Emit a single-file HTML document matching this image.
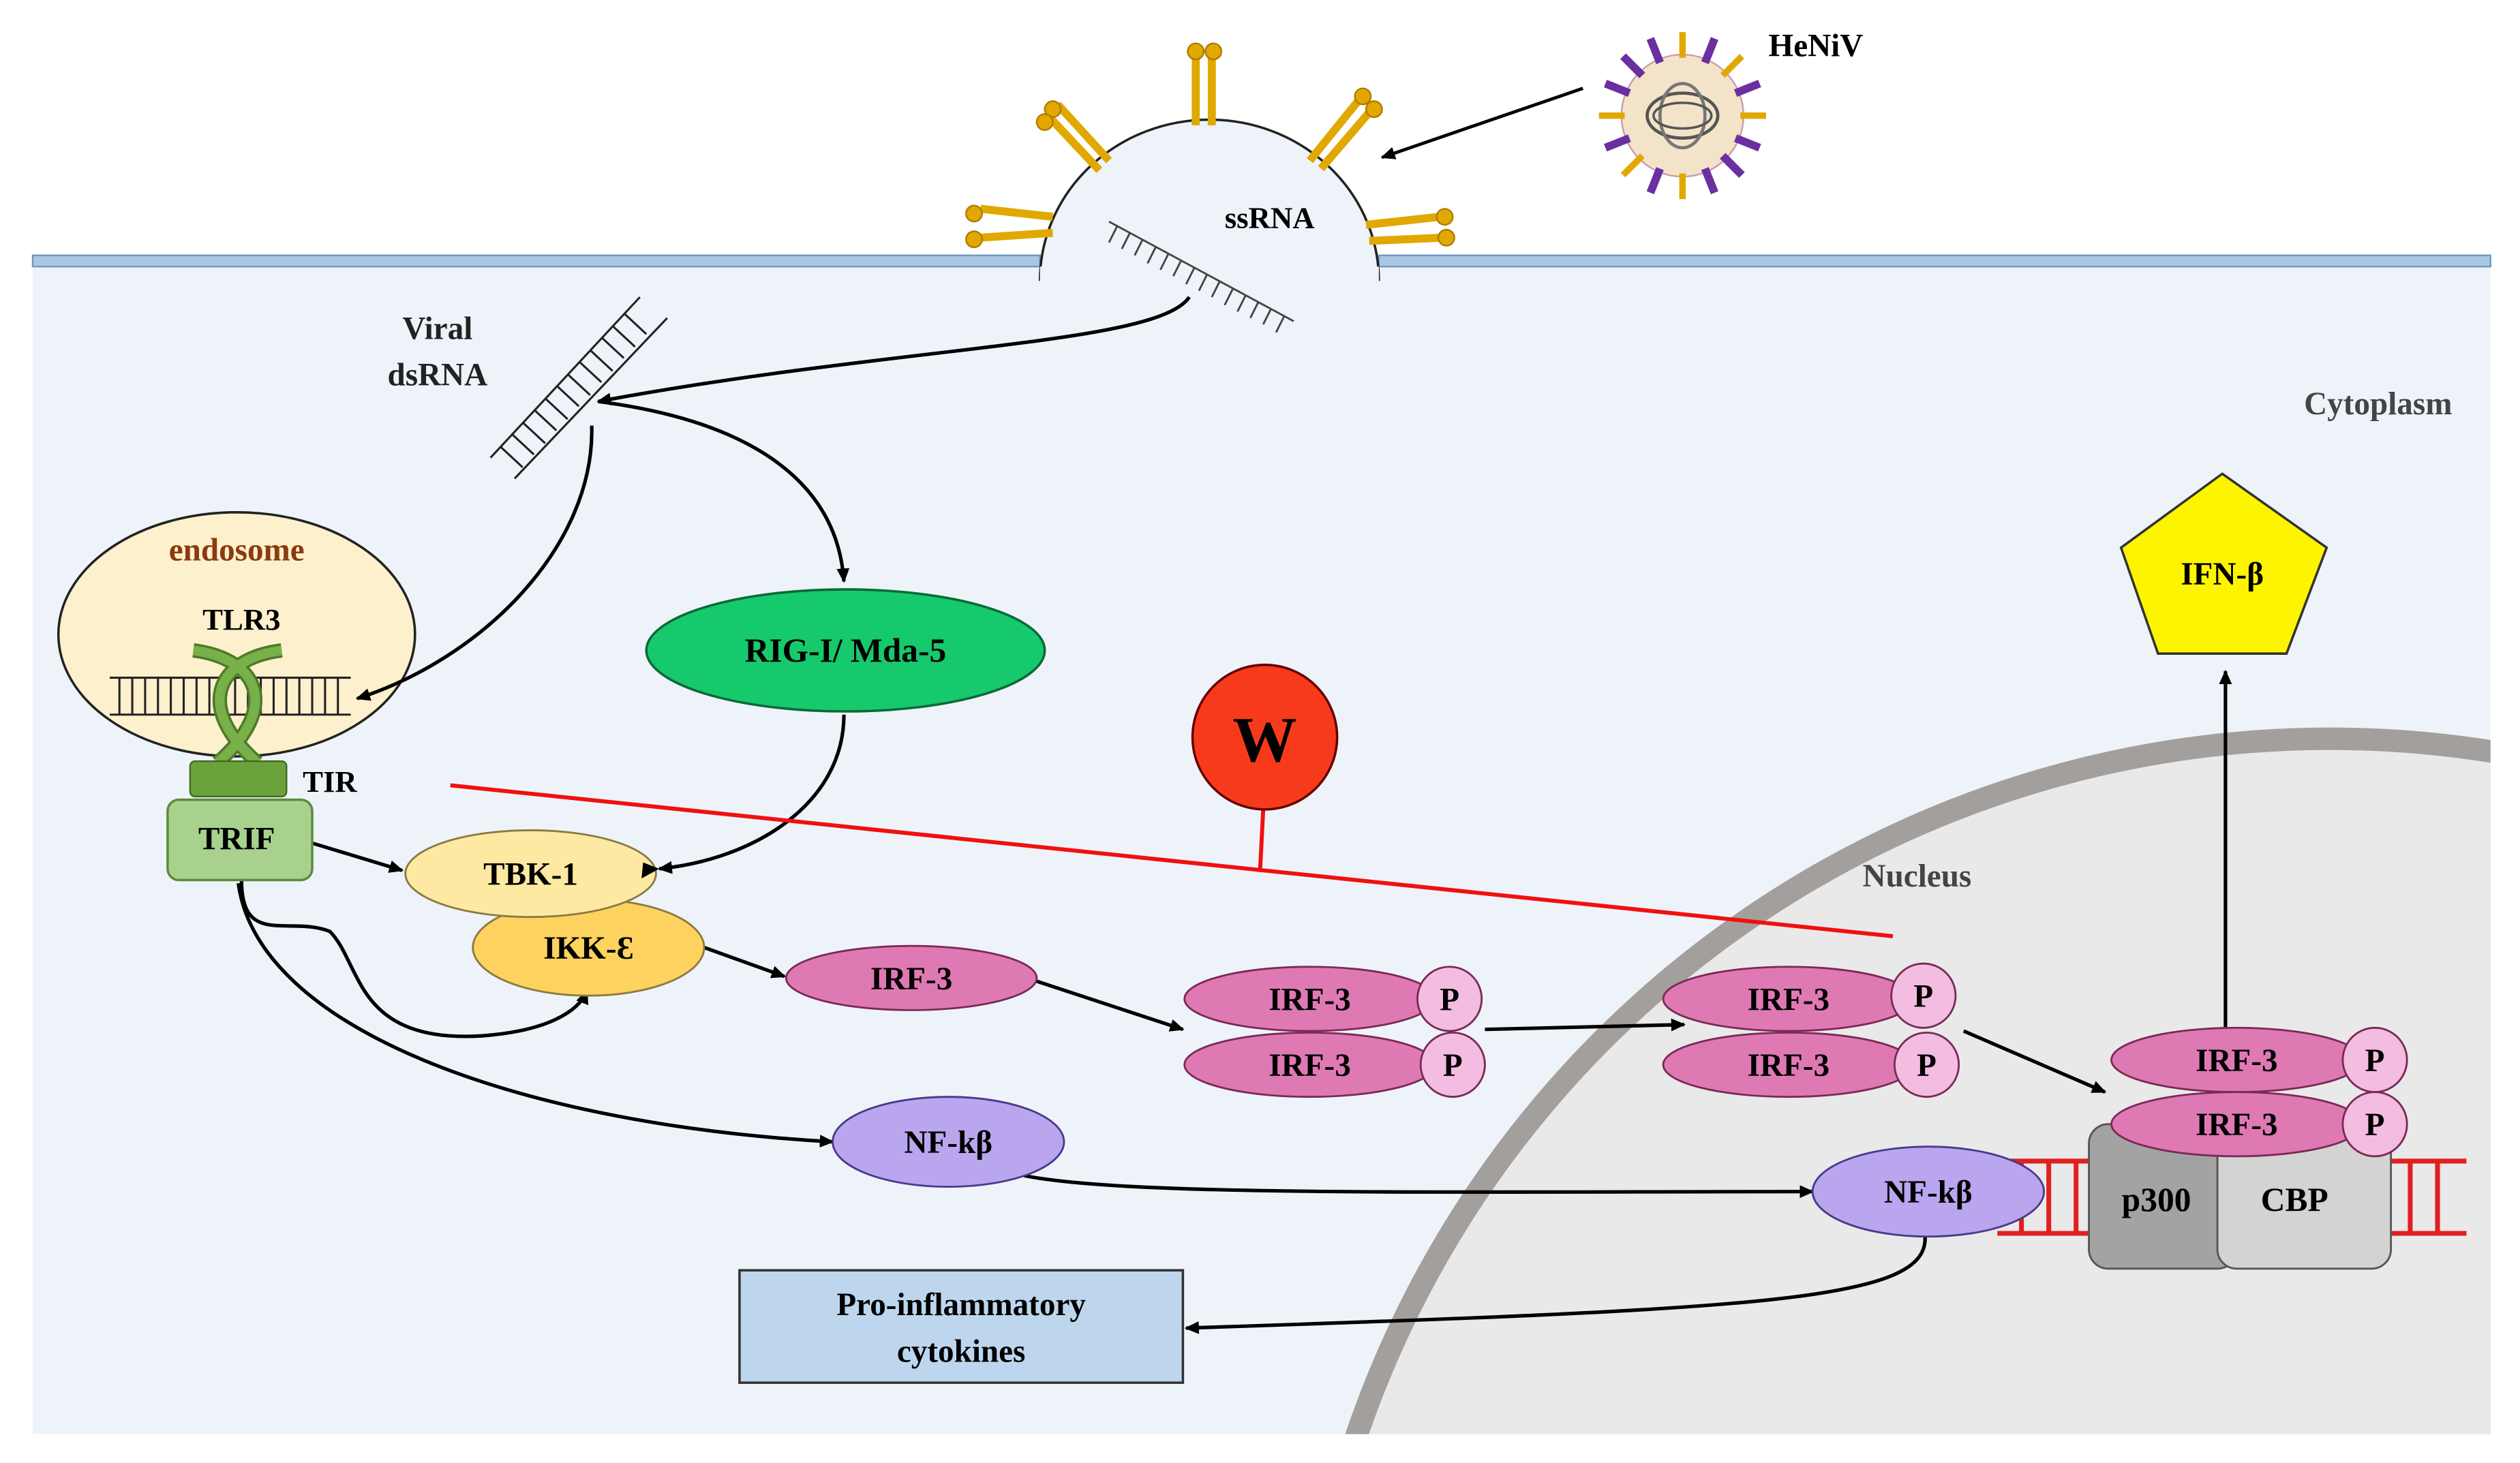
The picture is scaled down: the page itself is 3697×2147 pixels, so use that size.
<!DOCTYPE html>
<html><head><meta charset="utf-8"><style>html,body{margin:0;padding:0;background:#fff;overflow:hidden;width:3697px;height:2147px}svg{display:block}text{font-family:"Liberation Serif",serif;font-weight:bold}</style></head>
<body>
<svg width="3697" height="2147" viewBox="0 0 1568 911" xmlns="http://www.w3.org/2000/svg">
<defs>
<marker id="a" markerWidth="10" markerHeight="10" refX="8" refY="5" orient="auto" markerUnits="userSpaceOnUse"><path d="M0,1 L9,5 L0,9 Z" fill="#000"/></marker>
<clipPath id="cy"><rect x="20" y="165" width="1530" height="728"/></clipPath>
</defs>
<rect width="1568" height="911" fill="#fff"/>
<rect x="20" y="165" width="1530" height="728" fill="#eef3f9"/>
<g clip-path="url(#cy)"><circle cx="1450" cy="1100" r="640" fill="#e9e9e9" stroke="#a39f9c" stroke-width="14"/></g>
<rect x="20" y="159" width="627" height="7" fill="#a9c7e3" stroke="#6d98c2" stroke-width="1"/>
<rect x="858" y="159" width="692" height="7" fill="#a9c7e3" stroke="#6d98c2" stroke-width="1"/>
<path d="M647,175 A105,100 0 0 1 858,175" fill="#eef3f9" stroke="#222" stroke-width="1.5"/>
<rect x="647" y="166" width="211" height="10" fill="#eef3f9"/>
<g stroke="#e0a800" stroke-width="5" fill="#e0a800">
<line x1="655" y1="135" x2="610" y2="130"/><line x1="655" y1="145" x2="610" y2="148"/>
<line x1="690" y1="100" x2="658" y2="65"/><line x1="684" y1="106" x2="652" y2="72"/>
<line x1="744" y1="78" x2="744" y2="35"/><line x1="754" y1="78" x2="754" y2="35"/>
<line x1="815" y1="100" x2="845" y2="63"/><line x1="822" y1="105" x2="852" y2="70"/>
<line x1="850" y1="140" x2="896" y2="135"/><line x1="852" y1="150" x2="898" y2="148"/>
</g>
<g fill="#e0a800" stroke="#b07a00"><circle cx="606" cy="133" r="5"/><circle cx="606" cy="149" r="5"/><circle cx="655" cy="68" r="5"/><circle cx="650" cy="76" r="5"/><circle cx="744" cy="32" r="5"/><circle cx="755" cy="32" r="5"/><circle cx="848" cy="60" r="5"/><circle cx="855" cy="68" r="5"/><circle cx="899" cy="135" r="5"/><circle cx="900" cy="148" r="5"/></g>
<g stroke="#444" stroke-width="1.2"><line x1="690" y1="138" x2="805" y2="200"/>
<path d="M695,141 l-5,10 M703,145 l-5,10 M711,149 l-5,10 M719,154 l-5,10 M727,158 l-5,10 M735,162 l-5,10 M743,167 l-5,10 M751,171 l-5,10 M759,175 l-5,10 M767,180 l-5,10 M775,184 l-5,10 M783,188 l-5,10 M791,192 l-5,10 M799,197 l-5,10"/></g>
<text x="790" y="142" font-size="19" text-anchor="middle">ssRNA</text>
<g transform="translate(1047,72)">
<circle r="38" fill="#f3e3c8" stroke="#c9a" stroke-width="1"/>
<g stroke="#e0a800" stroke-width="4"><line x1="0" y1="-36" x2="0" y2="-52"/><line x1="0" y1="36" x2="0" y2="52"/><line x1="-36" y1="0" x2="-52" y2="0"/><line x1="36" y1="0" x2="52" y2="0"/><line x1="25" y1="-25" x2="37" y2="-37"/><line x1="-25" y1="25" x2="-37" y2="37"/></g>
<g stroke="#6b2fa0" stroke-width="5"><line x1="-25" y1="-25" x2="-37" y2="-37"/><line x1="25" y1="25" x2="37" y2="37"/><line x1="14" y1="-33" x2="20" y2="-48"/><line x1="-14" y1="33" x2="-20" y2="48"/><line x1="33" y1="-14" x2="48" y2="-20"/><line x1="-33" y1="14" x2="-48" y2="20"/><line x1="-14" y1="-33" x2="-20" y2="-48"/><line x1="14" y1="33" x2="20" y2="48"/><line x1="-33" y1="-14" x2="-48" y2="-20"/><line x1="33" y1="14" x2="48" y2="20"/></g>
<ellipse rx="22" ry="14" fill="none" stroke="#555" stroke-width="2"/><ellipse rx="14" ry="20" fill="none" stroke="#777" stroke-width="2"/><ellipse rx="18" ry="8" fill="none" stroke="#555" stroke-width="1.5"/>
</g>
<text x="1130" y="35" font-size="20" text-anchor="middle">HeNiV</text>
<line x1="985" y1="55" x2="860" y2="98" stroke="#000" stroke-width="2" marker-end="url(#a)"/>
<text x="272" y="211" font-size="20" text-anchor="middle" fill="#222">Viral</text>
<text x="272" y="240" font-size="20" text-anchor="middle" fill="#222">dsRNA</text>
<text x="1480" y="258" font-size="20" text-anchor="middle" fill="#444">Cytoplasm</text>
<text x="1193" y="552" font-size="20" text-anchor="middle" fill="#444">Nucleus</text>
<g stroke="#222" stroke-width="1.3"><line x1="305" y1="285" x2="398" y2="185"/><line x1="320" y1="298" x2="415" y2="198"/>
<path d="M311,278 l14,13 M318,270 l14,13 M325,263 l14,13 M332,255 l14,13 M339,248 l14,13 M346,240 l14,13 M353,233 l14,13 M360,225 l14,13 M367,218 l14,13 M374,210 l14,13 M381,203 l14,13 M388,195 l14,13"/></g>
<g fill="none" stroke="#000" stroke-width="2.2">
<path d="M740,185 C720,215 560,215 372,250" marker-end="url(#a)"/>
<path d="M372,250 C450,260 520,290 525,362" marker-end="url(#a)"/>
<path d="M525,445 C525,500 470,535 410,541" marker-end="url(#a)"/>
<path d="M194,525 L250,542" marker-end="url(#a)"/>
<path d="M150,548 C150,590 180,570 205,580 C225,600 220,650 300,645 C340,642 360,630 365,617" marker-end="url(#a)"/>
<path d="M148,550 C160,640 320,700 518,711" marker-end="url(#a)"/>
<path d="M438,590 L488,608" marker-end="url(#a)"/>
<path d="M645,611 L736,641" marker-end="url(#a)"/>
<path d="M924,641 L1048,638" marker-end="url(#a)"/>
<path d="M1222,642 L1310,680" marker-end="url(#a)"/>
<path d="M637,732 C700,745 900,742 1128,742" marker-end="url(#a)"/>
<path d="M1198,770 C1200,810 1100,815 738,827" marker-end="url(#a)"/>
<path d="M1385,640 L1385,418" marker-end="url(#a)"/>
</g>
<ellipse cx="147" cy="395" rx="111" ry="76" fill="#fdf0cc" stroke="#222" stroke-width="1.5"/>
<path d="M368,265 C370,340 300,410 222,435" fill="none" stroke="#000" stroke-width="2.2" marker-end="url(#a)"/>
<text x="147" y="349" font-size="20" text-anchor="middle" fill="#8b3a0f">endosome</text>
<text x="150" y="392" font-size="19" text-anchor="middle">TLR3</text>
<g stroke="#222" stroke-width="1.3"><line x1="68" y1="422" x2="218" y2="422"/><line x1="68" y1="445" x2="218" y2="445"/>
<path d="M74,422v23M82,422v23M90,422v23M98,422v23M106,422v23M114,422v23M122,422v23M130,422v23M138,422v23M146,422v23M154,422v23M162,422v23M170,422v23M178,422v23M186,422v23M194,422v23M202,422v23M210,422v23"/></g>
<g fill="none" stroke="#4e7a2a" stroke-width="9"><path d="M120,405 C160,410 175,440 135,475"/><path d="M175,405 C135,410 120,440 160,475"/></g>
<g fill="none" stroke="#78b049" stroke-width="6"><path d="M120,405 C160,410 175,440 135,475"/><path d="M175,405 C135,410 120,440 160,475"/></g>
<rect x="118" y="474" width="60" height="22" fill="#6aa33c" stroke="#3d6b1f" rx="3"/>
<text x="205" y="493" font-size="19" text-anchor="middle">TIR</text>
<rect x="104" y="498" width="90" height="50" rx="7" fill="#a9d18e" stroke="#5d8a3e" stroke-width="1.5"/>
<text x="147" y="529" font-size="20" text-anchor="middle">TRIF</text>
<ellipse cx="526" cy="405" rx="124" ry="38" fill="#16c96c" stroke="#0a6a38" stroke-width="1.5"/>
<text x="526" y="412" font-size="21" text-anchor="middle">RIG-I/ Mda-5</text>
<ellipse cx="366" cy="590" rx="72" ry="30" fill="#fdd25e" stroke="#8a7a40" stroke-width="1.2"/>
<text x="366" y="597" font-size="20" text-anchor="middle">IKK-Ɛ</text>
<ellipse cx="330" cy="544" rx="78" ry="27" fill="#fde9a2" stroke="#8a7a40" stroke-width="1.2"/>
<text x="330" y="551" font-size="20" text-anchor="middle">TBK-1</text>
<path d="M400,537 L410,541 L399,547 Z" fill="#000"/>
<g stroke="#7a2a55" stroke-width="1.2">
<ellipse cx="567" cy="609" rx="78" ry="20" fill="#df79b4"/>
<ellipse cx="815" cy="622" rx="78" ry="20" fill="#df79b4"/><ellipse cx="815" cy="663" rx="78" ry="20" fill="#df79b4"/>
<circle cx="902" cy="622" r="20" fill="#f2bde0"/><circle cx="904" cy="663" r="20" fill="#f2bde0"/>
<ellipse cx="1113" cy="622" rx="78" ry="20" fill="#df79b4"/><ellipse cx="1113" cy="663" rx="78" ry="20" fill="#df79b4"/>
<circle cx="1197" cy="620" r="20" fill="#f2bde0"/><circle cx="1199" cy="663" r="20" fill="#f2bde0"/>
</g>
<g stroke="#e02020" stroke-width="3"><line x1="1243" y1="723" x2="1535" y2="723"/><line x1="1243" y1="768" x2="1535" y2="768"/>
<path d="M1258,723v45M1275,723v45M1292,723v45M1500,723v45M1517,723v45"/></g>
<rect x="1300" y="700" width="92" height="90" rx="12" fill="#a3a3a3" stroke="#555" stroke-width="1.2"/>
<rect x="1380" y="700" width="108" height="90" rx="12" fill="#d3d3d3" stroke="#555" stroke-width="1.2"/>
<text x="1342" y="754" font-size="21" text-anchor="middle">p300</text>
<text x="1428" y="754" font-size="21" text-anchor="middle">CBP</text>
<g stroke="#7a2a55" stroke-width="1.2">
<ellipse cx="1392" cy="660" rx="78" ry="20" fill="#df79b4"/><ellipse cx="1392" cy="700" rx="78" ry="20" fill="#df79b4"/>
<circle cx="1478" cy="660" r="20" fill="#f2bde0"/><circle cx="1478" cy="700" r="20" fill="#f2bde0"/>
</g>
<g font-size="20" text-anchor="middle">
<text x="567" y="616">IRF-3</text><text x="815" y="629">IRF-3</text><text x="815" y="670">IRF-3</text>
<text x="1113" y="629">IRF-3</text><text x="1113" y="670">IRF-3</text>
<text x="1392" y="667">IRF-3</text><text x="1392" y="707">IRF-3</text>
<text x="902" y="629">P</text><text x="904" y="670">P</text><text x="1197" y="627">P</text><text x="1199" y="670">P</text><text x="1478" y="667">P</text><text x="1478" y="707">P</text>
</g>
<ellipse cx="590" cy="711" rx="72" ry="28" fill="#b9a6ef" stroke="#4a3a8a" stroke-width="1.2"/>
<text x="590" y="718" font-size="20" text-anchor="middle">NF-kβ</text>
<ellipse cx="1200" cy="742" rx="72" ry="28" fill="#b9a6ef" stroke="#4a3a8a" stroke-width="1.2"/>
<text x="1200" y="749" font-size="20" text-anchor="middle">NF-kβ</text>
<rect x="460" y="791" width="276" height="70" fill="#bdd6ee" stroke="#333" stroke-width="1.5"/>
<text x="598" y="819" font-size="20" text-anchor="middle">Pro-inflammatory</text>
<text x="598" y="848" font-size="20" text-anchor="middle">cytokines</text>
<line x1="280" y1="489" x2="1178" y2="583" stroke="#f01010" stroke-width="2.5"/>
<line x1="786" y1="504" x2="784" y2="543" stroke="#f01010" stroke-width="2.5"/>
<circle cx="787" cy="459" r="45" fill="#f83a1c" stroke="#600" stroke-width="1.5"/>
<text x="787" y="474" font-size="40" text-anchor="middle">W</text>
<polygon points="1383,295 1448,341 1423,407 1343,407 1320,341" fill="#fdf500" stroke="#333" stroke-width="1.5"/>
<text x="1383" y="364" font-size="20" text-anchor="middle">IFN-β</text>
</svg>
</body></html>
